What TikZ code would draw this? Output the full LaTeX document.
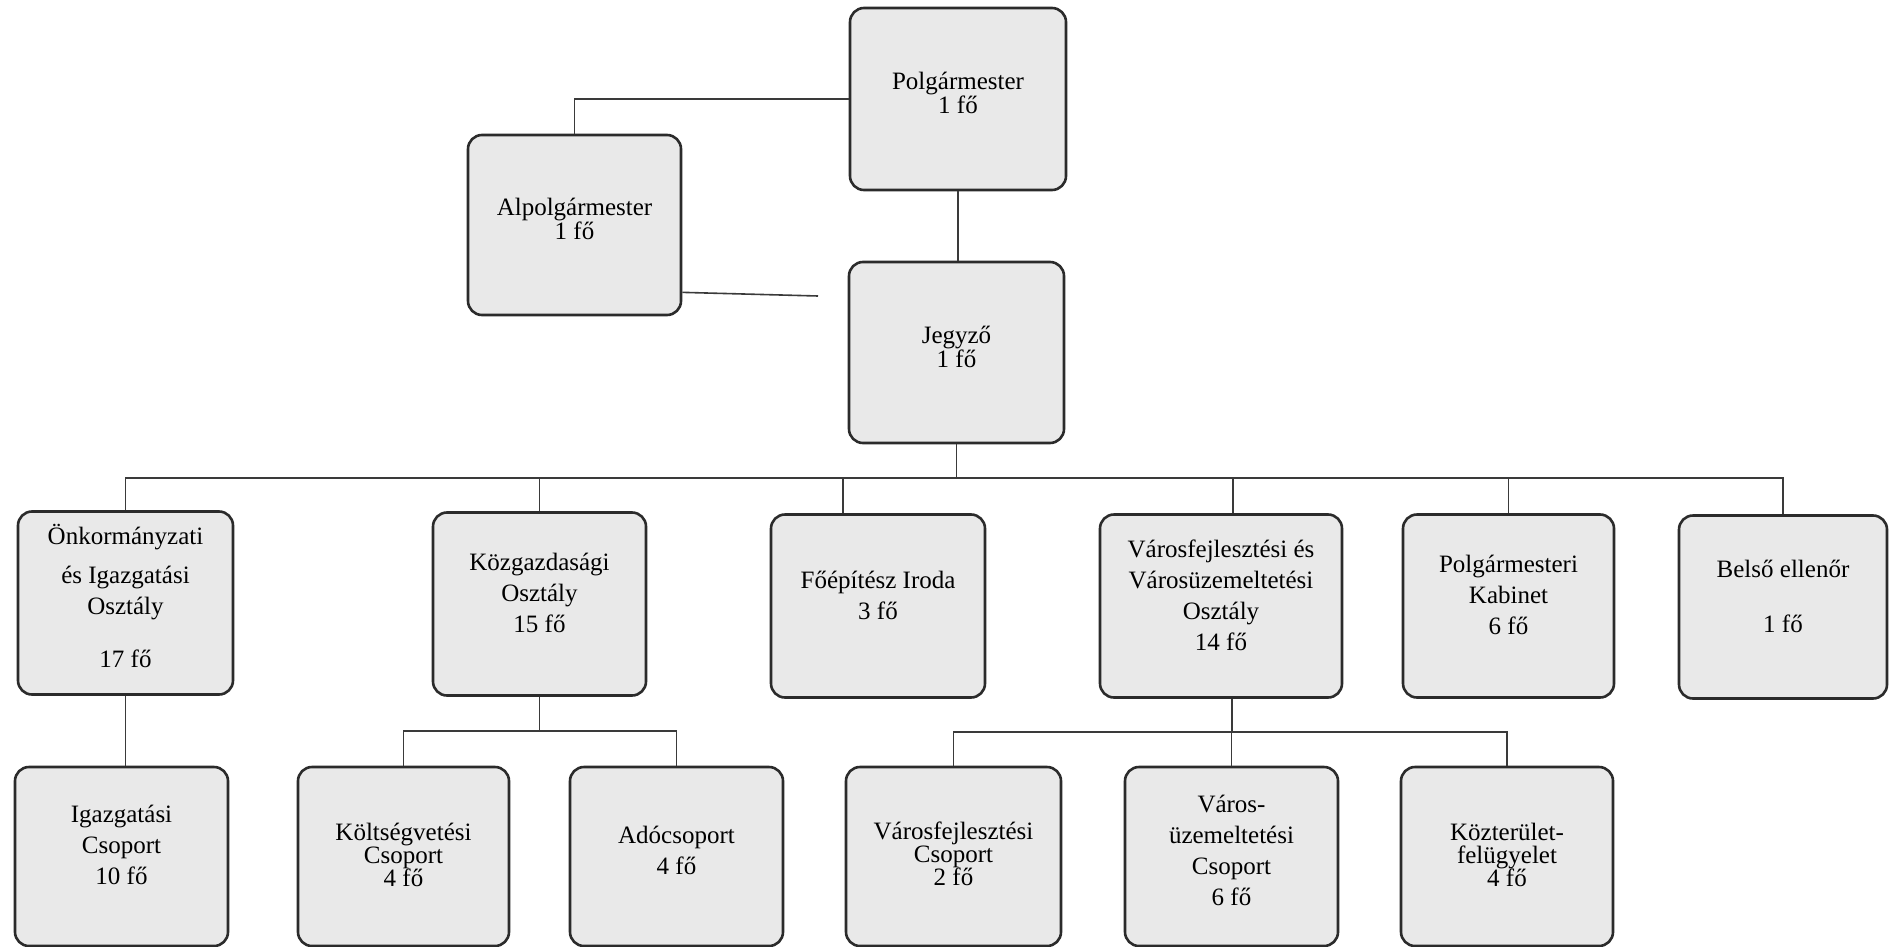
\documentclass[tikz,border=0pt]{standalone}
\usepackage{fontspec}
\setmainfont{Liberation Serif}
\usetikzlibrary{calc}
\definecolor{boxfill}{HTML}{E9E9E9}
\definecolor{boxline}{HTML}{2B2B2B}
\definecolor{conn}{HTML}{3A3A3A}
\begin{document}
\begin{tikzpicture}[x=1pt,y=-1pt,
  orgbox/.style={draw=boxline, line width=2.6pt, fill=boxfill, rounded corners=14pt,
    align=center, inner sep=0pt, text=black, font=\fontsize{25}{31}\selectfont},
  tightbox/.style={orgbox, font=\fontsize{25}{24}\selectfont},
  midbox/.style={orgbox, font=\fontsize{25}{23}\selectfont},
  lvltwo/.style={minimum height=183pt, text depth=22pt},
  lvlthree/.style={minimum height=179pt},
  link/.style={draw=conn, line width=1.6pt}]
\useasboundingbox (0,0) rectangle (1889,947);

% top level
\node[tightbox, text depth=12pt, minimum width=216pt, minimum height=182pt] (polg) at (958,99) {Polgármester\\1 fő};
\node[tightbox, text depth=12pt, minimum width=213pt, minimum height=180pt] (alp) at (574.5,225) {Alpolgármester\\1 fő};
\node[tightbox, text depth=12pt, minimum width=215pt, minimum height=181pt] (jegy) at (956.5,352.5) {Jegyző\\1 fő};

% second level
\node[orgbox, lvltwo, text depth=14pt, minimum width=215pt] (onk) at (125.5,603) {Önkormányzati\\[8pt]és Igazgatási\\Osztály\\[22pt]17 fő};
\node[orgbox, lvltwo, minimum width=213pt] (kozg) at (539.5,604) {Közgazdasági\\Osztály\\15 fő};
\node[orgbox, lvltwo, minimum width=214pt] (foep) at (878,606) {Főépítész Iroda\\3 fő};
\node[orgbox, lvltwo, minimum width=242pt] (varf) at (1221,606) {Városfejlesztési és\\Városüzemeltetési\\Osztály\\14 fő};
\node[orgbox, lvltwo, minimum width=211pt] (polgk) at (1508.5,606) {Polgármesteri\\Kabinet\\6 fő};
\node[orgbox, lvltwo, minimum width=208pt] (belso) at (1783,607) {Belső ellenőr\\[24pt]1 fő};

% third level
\node[orgbox, lvlthree, text depth=24pt, minimum width=213pt] (igaz) at (121.5,856.5) {Igazgatási\\Csoport\\10 fő};
\node[midbox, lvlthree, text depth=4pt, minimum width=211pt] (kolt) at (403.5,856.5) {Költségvetési\\Csoport\\4 fő};
\node[orgbox, lvlthree, text depth=12pt, minimum width=213pt] (ado) at (676.5,856.5) {Adócsoport\\4 fő};
\node[midbox, lvlthree, text depth=6pt, minimum width=215pt] (varcs) at (953.5,856.5) {Városfejlesztési\\Csoport\\2 fő};
\node[orgbox, lvlthree, text depth=12pt, minimum width=213pt] (varuz) at (1231.5,856.5) {Város-\\üzemeltetési\\Csoport\\6 fő};
\node[midbox, lvlthree, text depth=4pt, minimum width=212pt] (kozt) at (1507,856.5) {Közterület-\\felügyelet\\4 fő};

% connectors, top
\draw[link] (polg.west) -| (alp.north);
\draw[link] (polg.south) -- (polg.south |- jegy.north);
\coordinate (dangend) at (818,296);
\draw[link] (alp.-32) -- (dangend);

% main bus
\coordinate (bus) at (956.5,478);
\draw[link] (jegy.south) -- (bus);
\draw[link] (onk.north) |- (bus);
\draw[link] (kozg.north) |- (bus);
\draw[link] ([xshift=-35pt]foep.north) |- (bus);
\draw[link] ([xshift=12pt]varf.north) |- (bus);
\draw[link] (polgk.north) |- (bus);
\draw[link] (belso.north) |- (bus);

% third level connectors
\draw[link] (onk.south) -- (onk.south |- igaz.north);
\coordinate (kozgbus) at (539.5,731);
\draw[link] (kozg.south) -- (kozgbus);
\draw[link] (kolt.north) |- (kozgbus);
\draw[link] (ado.north) |- (kozgbus);
\coordinate (varbus) at (1232,732);
\draw[link] ([xshift=11pt]varf.south) -- (varbus);
\draw[link] (varcs.north) |- (varbus);
\draw[link] (varuz.north) |- (varbus);
\draw[link] (kozt.north) |- (varbus);
\end{tikzpicture}
\end{document}
